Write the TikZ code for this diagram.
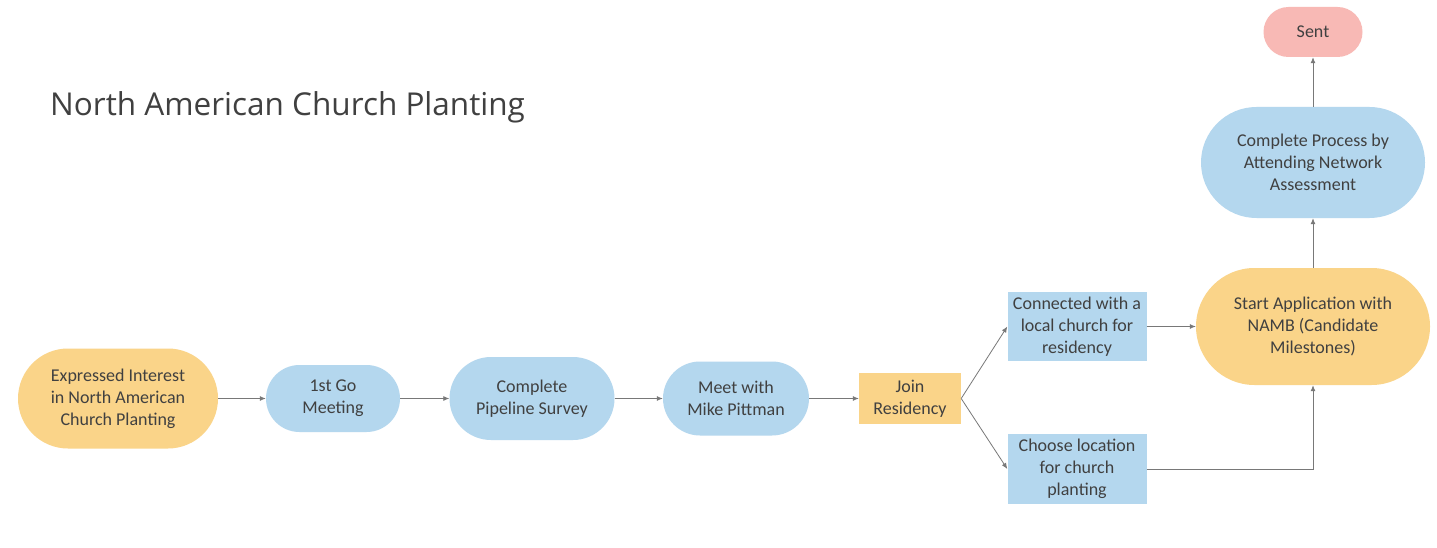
\documentclass[tikz,border=0pt]{standalone}
\usepackage{fontspec}
\setmainfont{Carlito}
\newfontfamily\titlefont{Open Sans}
\usetikzlibrary{arrows.meta}

\definecolor{stepyellow}{RGB}{250,212,137}
\definecolor{stepblue}{RGB}{180,215,238}
\definecolor{stepred}{RGB}{248,185,181}
\definecolor{steptext}{RGB}{64,64,64}
\definecolor{flowgrey}{RGB}{120,120,120}

\tikzset{
  stepnode/.style={inner sep=0pt, align=center, text=steptext,
    font=\fontsize{18}{22}\selectfont},
  yellowpill/.style={stepnode, fill=stepyellow},
  bluepill/.style={stepnode, fill=stepblue},
  redpill/.style={stepnode, fill=stepred},
  yellowbox/.style={stepnode, fill=stepyellow},
  bluebox/.style={stepnode, fill=stepblue},
  flow/.style={draw=flowgrey, line width=0.8pt, -{Latex[length=6pt,width=5pt]}}
}

\begin{document}
\begin{tikzpicture}[x=1pt,y=-1pt]
\useasboundingbox[fill=white] (0,0) rectangle (1437,548);

% title
\node[anchor=base west, inner sep=0pt, text=steptext, font=\titlefont\fontsize{31.5}{36}\selectfont]
  (title) at (50,116) {North American Church Planting};

% main row
\node[yellowpill, minimum width=200pt, minimum height=100pt, rounded corners=50pt]
  (interest) at (118,398.5) {Expressed Interest\\in North American\\Church Planting};
\node[bluepill, minimum width=134pt, minimum height=67pt, rounded corners=33.5pt]
  (gomeet) at (333,398.5) {1st Go\\Meeting};
\node[bluepill, minimum width=165pt, minimum height=83pt, rounded corners=41.5pt]
  (survey) at (532,398.5) {Complete\\Pipeline Survey};
\node[bluepill, minimum width=146pt, minimum height=74pt, rounded corners=37pt]
  (pittman) at (736,398.5) {Meet with\\Mike Pittman};
\node[yellowbox, minimum width=102pt, minimum height=51pt]
  (residency) at (910,398.5) {Join\\Residency};

% branches
\node[bluebox, minimum width=139pt, minimum height=69pt]
  (localchurch) at (1077,326.5) {Connected with a\\local church for\\residency};
\node[bluebox, minimum width=139pt, minimum height=70pt]
  (location) at (1077,469) {Choose location\\for church\\planting};

% right column
\node[yellowpill, minimum width=234pt, minimum height=117pt, rounded corners=58.5pt]
  (application) at (1313,326.5) {Start Application with\\NAMB (Candidate\\Milestones)};
\node[bluepill, minimum width=224pt, minimum height=111pt, rounded corners=55.5pt]
  (assessment) at (1313,162.5) {Complete Process by\\Attending Network\\Assessment};
\node[redpill, minimum width=99pt, minimum height=50pt, rounded corners=25pt]
  (sent) at (1313,32) {Sent};

% connectors
\draw[flow] (interest) -- (gomeet);
\draw[flow] (gomeet) -- (survey);
\draw[flow] (survey) -- (pittman);
\draw[flow] (pittman) -- (residency);
\draw[flow] (residency.east) -- (localchurch.west);
\draw[flow] (residency.east) -- (location.west);
\draw[flow] (localchurch) -- (application);
\draw[flow] (location.east) -| (application.south);
\draw[flow] (application) -- (assessment);
\draw[flow] (assessment) -- (sent);
\end{tikzpicture}
\end{document}
